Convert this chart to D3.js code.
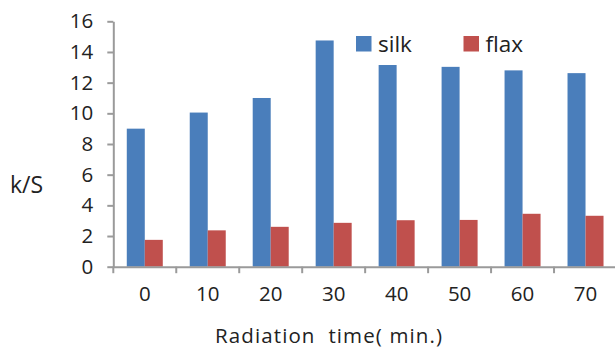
<!DOCTYPE html>
<html><head><meta charset="utf-8">
<script src="https://cdn.jsdelivr.net/npm/d3@7"></script>
<style>body{margin:0;background:#fff}svg{display:block}text{font-family:"Open Sans",sans-serif;fill:#222}</style>
</head><body><svg id="c" width="615" height="349"></svg>
<script>
const categories = ["0","10","20","30","40","50","60","70"];
const silk = [9.0, 10.05, 11.0, 14.75, 13.15, 13.03, 12.8, 12.62];
const flax = [1.75, 2.37, 2.6, 2.86, 3.03, 3.05, 3.45, 3.32];
const seriesNames = ["silk","flax"];
const colors = ["#4a7ebb","#c0504d"];
const yTicks = [0,2,4,6,8,10,12,14,16];

(function(){
const svg = d3.select("#c");
const mLeft = 113.3, mRight = 617, mTop = 21.3, mBottom = 266.7;
const x = d3.scaleBand().domain(categories).range([mLeft, mRight]).paddingInner(0).paddingOuter(0);
const y = d3.scaleLinear().domain([0,16]).range([mBottom, mTop]);
const barW = 18;
const inner = d3.scaleBand().domain(seriesNames).range([0, barW*2]);
const groupOff = (x.bandwidth() - barW*2)/2;

const data = [silk, flax];
data.forEach((vals, si) => {
  svg.append("g").selectAll("rect").data(vals).join("rect")
    .attr("x", (d,i) => x(categories[i]) + groupOff + inner(seriesNames[si]))
    .attr("width", inner.bandwidth())
    .attr("y", d => y(d))
    .attr("height", d => y(0) - y(d))
    .attr("fill", colors[si]);
});

const axisColor = "#9a9a9a";
const ya = svg.append("g").attr("transform", `translate(${mLeft},0)`)
  .call(d3.axisLeft(y).tickValues(yTicks).tickSize(6).tickSizeOuter(0).tickPadding(14));
ya.select(".domain").attr("stroke", axisColor).attr("stroke-width", 2);
ya.selectAll(".tick line").attr("stroke", axisColor).attr("stroke-width", 2);
ya.selectAll("text").attr("font-size", 20.5).attr("fill", "#222").attr("font-family", '"Open Sans",sans-serif');

const xa = svg.append("g").attr("transform", `translate(0,${mBottom})`)
  .call(d3.axisBottom(x).tickSize(0).tickPadding(20));
xa.select(".domain").attr("stroke", axisColor).attr("stroke-width", 2);
xa.selectAll("text").attr("font-size", 20.5).attr("fill", "#222").attr("font-family", '"Open Sans",sans-serif');
const bounds = categories.map(c => x(c)).concat([x(categories[categories.length-1]) + x.bandwidth()]);
svg.append("g").selectAll("line").data(bounds).join("line")
  .attr("x1", d => d).attr("x2", d => d).attr("y1", mBottom).attr("y2", mBottom + 6.5)
  .attr("stroke", axisColor).attr("stroke-width", 2);

const legX = [356, 463.5];
seriesNames.forEach((n, i) => {
  svg.append("rect").attr("x", legX[i]).attr("y", 36).attr("width", 15.5).attr("height", 15.5).attr("fill", colors[i]);
  svg.append("text").attr("x", legX[i] + 22).attr("y", 51.5).attr("font-size", 22.5).text(n);
});

svg.append("text").attr("x", 10).attr("y", 192.5).attr("font-size", 23).text("k/S");
svg.append("text").attr("x", 215).attr("y", 343).attr("font-size", 20.5)
  .attr("textLength", 227).attr("lengthAdjust", "spacing")
  .style("white-space","pre").text("Radiation  time( min.)");
})();
</script></body></html>
